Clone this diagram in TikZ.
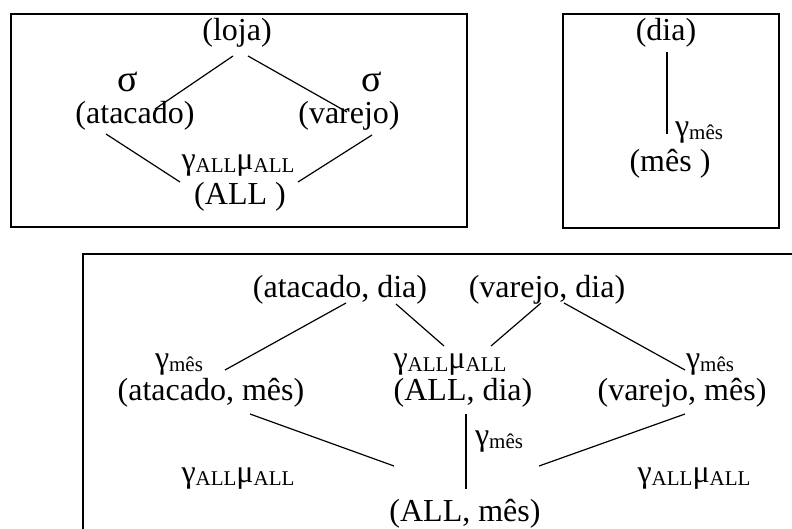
\documentclass[tikz,border=0pt]{standalone}
\usepackage{fontspec}
\setmainfont{Liberation Serif}
\newcommand{\sbx}[1]{\raisebox{-3pt}{\fontsize{21}{21}\selectfont #1}}
\begin{document}
\begin{tikzpicture}[x=1pt,y=-1pt,
  every node/.style={inner sep=0pt, font=\fontsize{32}{38}\selectfont},
  lab/.style={anchor=base},
  sig/.style={anchor=base, font=\fontsize{38}{42}\selectfont},
  box/.style={draw, line width=2pt},
  link/.style={line width=1.2pt}]
\useasboundingbox (0,0) rectangle (792,528);
\clip (0,0) rectangle (792,528);
% boxes
\draw[box] (11,14) rectangle (467,227);
\draw[box] (563,14) rectangle (779,228);
\draw[box] (83,254) rectangle (830,570);
% box 1
\node[lab] (loja) at (237,40) {(loja)};
\node[sig] (s1) at (128,91) {σ};
\node[sig] (s2) at (372,91) {σ};
\node[lab] (ata) at (135,123) {(atacado)};
\node[lab] (var) at (349,123) {(varejo)};
\node[lab] (g1) at (238,169) {γ\sbx{ALL}μ\sbx{ALL}};
\node[lab] (all) at (240,204) {(ALL )};
\coordinate (c1a) at (233,56); \coordinate (c1b) at (155,109);
\coordinate (c1c) at (248,56); \coordinate (c1d) at (347,112);
\coordinate (c1e) at (106,134); \coordinate (c1f) at (180,182);
\coordinate (c1g) at (372,135); \coordinate (c1h) at (298,182);
\draw[link] (c1a) -- (c1b);
\draw[link] (c1c) -- (c1d);
\draw[link] (c1e) -- (c1f);
\draw[link] (c1g) -- (c1h);
% box 2
\node[lab] (dia) at (666,40) {(dia)};
\node[lab] (gm) at (699,136) {γ\sbx{mês}};
\node[lab] (mes) at (670,171) {(mês )};
\coordinate (c2a) at (667,52); \coordinate (c2b) at (667,134);
\draw[link] (c2a) -- (c2b);
% box 3
\node[lab] (ad) at (340,297) {(atacado, dia)};
\node[lab] (vd) at (547,297) {(varejo, dia)};
\node[lab] (g3a) at (179,368) {γ\sbx{mês}};
\node[lab] (g3b) at (450,368) {γ\sbx{ALL}μ\sbx{ALL}};
\node[lab] (g3c) at (710,368) {γ\sbx{mês}};
\node[lab] (am) at (211,400) {(atacado, mês)};
\node[lab] (ald) at (463,400) {(ALL, dia)};
\node[lab] (vm) at (682,400) {(varejo, mês)};
\node[lab] (g3d) at (499,445) {γ\sbx{mês}};
\node[lab] (g3e) at (238,482) {γ\sbx{ALL}μ\sbx{ALL}};
\node[lab] (g3f) at (694,482) {γ\sbx{ALL}μ\sbx{ALL}};
\node[lab] (alm) at (465,521) {(ALL, mês)};
\coordinate (d1) at (346,303); \coordinate (d2) at (225,370);
\coordinate (d3) at (396,304); \coordinate (d4) at (444,346);
\coordinate (d5) at (541,303); \coordinate (d6) at (491,346);
\coordinate (d7) at (564,303); \coordinate (d8) at (685,370);
\coordinate (d9) at (250,414); \coordinate (d10) at (394,466);
\coordinate (d11) at (466,414); \coordinate (d12) at (466,489);
\coordinate (d13) at (685,414); \coordinate (d14) at (539,466);
\draw[link] (d1) -- (d2);
\draw[link] (d3) -- (d4);
\draw[link] (d5) -- (d6);
\draw[link] (d7) -- (d8);
\draw[link] (d9) -- (d10);
\draw[link] (d11) -- (d12);
\draw[link] (d13) -- (d14);
\end{tikzpicture}
\end{document}
